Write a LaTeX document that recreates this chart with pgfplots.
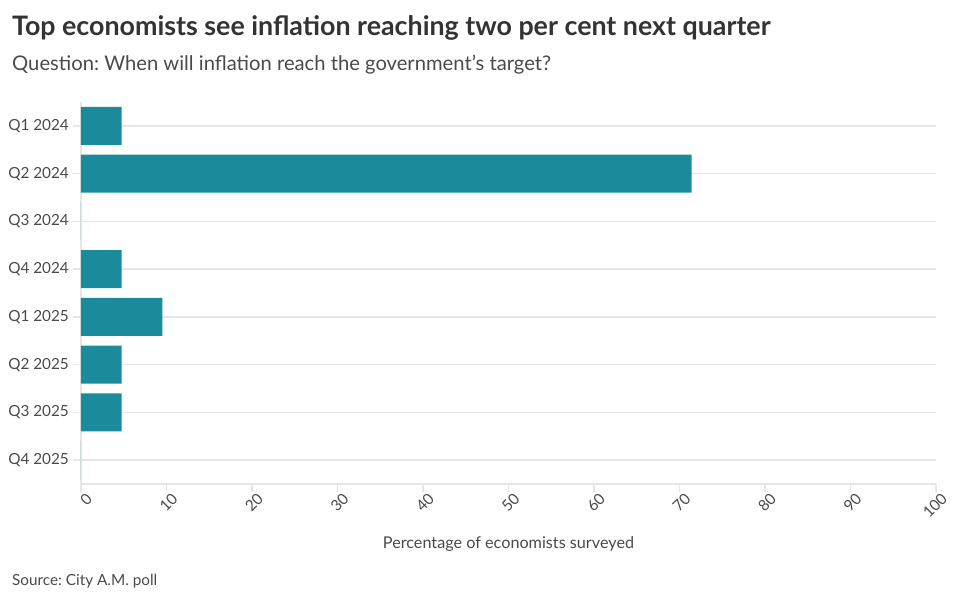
\documentclass[border=0pt]{standalone}
\usepackage{fontspec}
\setmainfont{Lato}
\usepackage{pgfplots}
\pgfplotsset{compat=1.18}
\definecolor{barc}{HTML}{1B8A9A}
\definecolor{gridc}{HTML}{E6E6E6}
\definecolor{txt}{HTML}{333333}
\definecolor{lbl}{HTML}{4A4A4A}
\frenchspacing
\begin{document}
\begin{tikzpicture}
\path[use as bounding box] (0pt,0pt) rectangle (960pt,601pt);
\node[anchor=base west, inner sep=0, text=txt, font=\fontsize{26.8}{30}\selectfont\bfseries] at (12pt,565pt) {Top economists see inflation reaching two per cent next quarter};
\node[anchor=base west, inner sep=0, text=lbl, font=\fontsize{20.2}{24}\selectfont] at (12pt,530pt) {Question: When will inflation reach the government\char39 s target?};
\node[anchor=base west, inner sep=0, text=lbl, font=\fontsize{15.3}{18}\selectfont] at (12pt,15.5pt) {Source: City A.M. poll};
\begin{axis}[at={(81pt,117pt)}, anchor=south west, scale only axis, width=855pt, height=382pt,
  xmin=0, xmax=100, ymin=-0.5, ymax=7.5, y dir=reverse,
  xbar, bar width=0.8,
  axis x line*=bottom, axis y line*=left,
  axis line style={gridc, line width=1.5pt},
  tick style={gridc, line width=1.5pt},
  major tick length=8pt, tick align=outside,
  ymajorgrids, grid style={gridc, line width=1.5pt},
  xtick={0,10,...,100},
  ytick={0,...,7},
  yticklabels={Q1 2024,Q2 2024,Q3 2024,Q4 2024,Q1 2025,Q2 2025,Q3 2025,Q4 2025},
  ticklabel style={font=\fontsize{15.3}{18}\selectfont, text=lbl},
  /pgf/number format/assume math mode=true,
  xticklabel style={rotate=45, anchor=north east, inner sep=1pt, xshift=4pt, yshift=-2pt},
  yticklabel style={anchor=east, inner sep=2pt, xshift=-2pt},
  xlabel={Percentage of economists surveyed},
  xlabel style={at={(axis description cs:0.5,0)}, anchor=base, yshift=-64pt, font=\fontsize{16.2}{19}\selectfont, text=lbl},
  clip=false,
]
\addplot[fill=barc, draw=none] coordinates {(4.76,0) (71.43,1) (0,2) (4.76,3) (9.52,4) (4.76,5) (4.76,6) (0,7)};
\end{axis}
\end{tikzpicture}
\end{document}
